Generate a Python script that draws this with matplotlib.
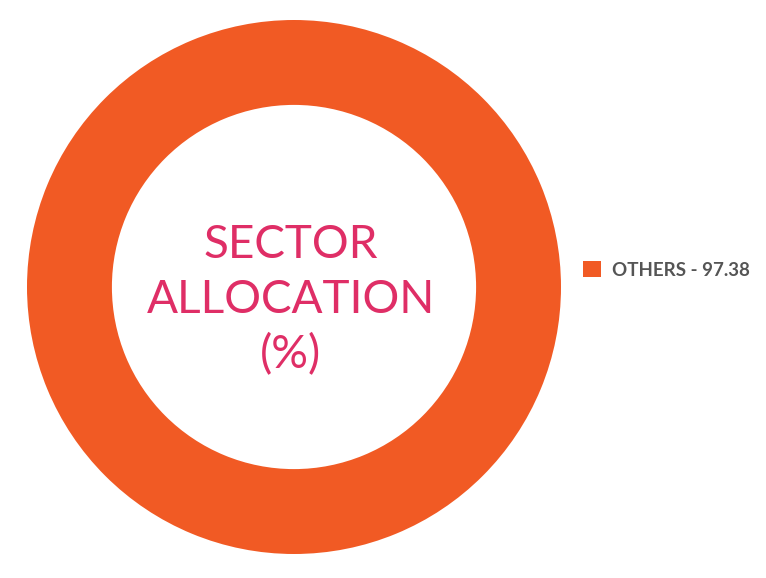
import matplotlib.pyplot as plt

sectors = ['OTHERS']
values = [97.38]
colors = ['#F15A24']

W, H = 766, 578
fig = plt.figure(figsize=(W / 100, H / 100), dpi=100)

# donut centre (294, 287) px, radius 267 px
cx, cy, r = 294, 287, 267
ax = fig.add_axes([(cx - r) / W, (H - cy - r) / H, 2 * r / W, 2 * r / H])
wedges, _ = ax.pie(values, colors=colors, radius=1.0, startangle=90,
                   wedgeprops=dict(width=0.318, edgecolor='none'))
ax.set_xlim(-1, 1)
ax.set_ylim(-1, 1)
ax.set_aspect('equal')
ax.axis('off')

center_color = '#DF2E66'
for i, line in enumerate(['SECTOR', 'ALLOCATION', '(%)']):
    ax.text(-3 / r, (287 - (245 + 55 * i)) / r, line, ha='center', va='center',
            fontsize=33, color=center_color, family=['Lato', 'DejaVu Sans'])

labels = [f'{s} - {v:.2f}' for s, v in zip(sectors, values)]
leg = fig.legend(wedges, labels, loc='center left',
                 bbox_to_anchor=(566 / W, 1 - 270 / H), frameon=False,
                 handlelength=0.95, handleheight=0.95, handletextpad=0.6,
                 prop={'family': ['Lato', 'DejaVu Sans'], 'weight': 'bold', 'size': 13.5})
for t in leg.get_texts():
    t.set_color('#555555')

fig.savefig('out.png', dpi=100)
